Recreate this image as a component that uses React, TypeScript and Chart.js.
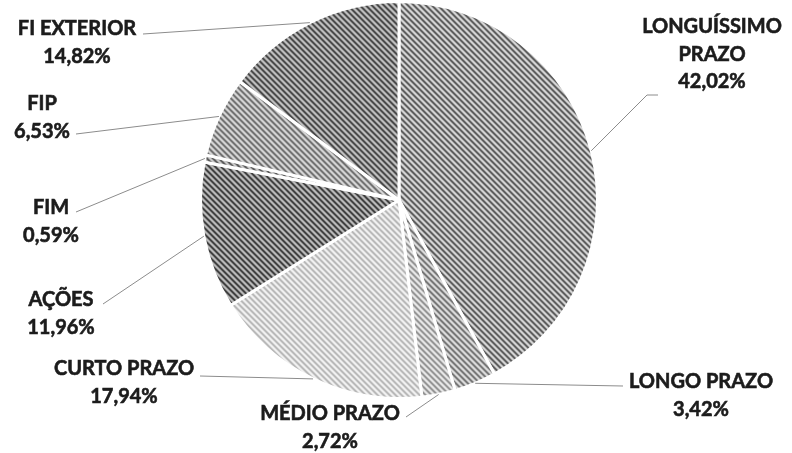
import React, { useEffect, useRef } from "react";
import { Chart, registerables } from "chart.js";
Chart.register(...registerables);

// ---- data ----
const categories = [
  "LONGUÍSSIMO PRAZO",
  "LONGO PRAZO",
  "MÉDIO PRAZO",
  "CURTO PRAZO",
  "AÇÕES",
  "FIM",
  "FIP",
  "FI EXTERIOR",
];
const values = [42.02, 3.42, 2.72, 17.94, 11.96, 0.59, 6.53, 14.82];
const categoryLines = [
  ["LONGUÍSSIMO", "PRAZO"],
  ["LONGO PRAZO"],
  ["MÉDIO PRAZO"],
  ["CURTO PRAZO"],
  ["AÇÕES"],
  ["FIM"],
  ["FIP"],
  ["FI EXTERIOR"],
];

// ---- styles (stripe grey, background grey) ----
const stripeGrey = [95, 120, 150, 185, 65, 95, 115, 75];
const bgGrey = [212, 218, 230, 240, 185, 200, 212, 190];

// ---- label layout: text centre (cx, first-line cy), leader anchor (ax, ay), optional elbow ----
const labelLayout = [
  { cx: 712, cy: 27, ax: 658, ay: 95, ex: 647, ey: 95 },
  { cx: 701, cy: 382, ax: 623, ay: 386 },
  { cx: 330, cy: 414, ax: 406, ay: 417 },
  { cx: 124, cy: 369, ax: 200, ay: 376 },
  { cx: 61, cy: 300, ax: 103, ay: 304 },
  { cx: 51, cy: 208, ax: 76, ay: 212 },
  { cx: 42, cy: 104, ax: 76, ay: 134 },
  { cx: 77, cy: 29, ax: 143, ay: 34 },
];

function fmt(v: number) {
  return v.toFixed(2).replace(".", ",") + "%";
}

function makePattern(ctx: CanvasRenderingContext2D, stripe: number, bg: number) {
  const s = 6;
  const c = document.createElement("canvas");
  c.width = s;
  c.height = s;
  const cctx = c.getContext("2d")!;
  const img = cctx.createImageData(s, s);
  for (let y = 0; y < s; y++) {
    for (let x = 0; x < s; x++) {
      const d = (((x - y) % s) + s) % s;
      const w = d === 0 || d === 1 ? 1 : d === 2 || d === 5 ? 0.45 : 0;
      const v = Math.round(bg * (1 - w) + stripe * w);
      const k = (y * s + x) * 4;
      img.data[k] = v;
      img.data[k + 1] = v;
      img.data[k + 2] = v;
      img.data[k + 3] = 255;
    }
  }
  cctx.putImageData(img, 0, 0);
  return ctx.createPattern(c, "repeat")!;
}

const labelPlugin = {
  id: "outerLabels",
  afterDraw(chart: any) {
    const ctx: CanvasRenderingContext2D = chart.ctx;
    const meta = chart.getDatasetMeta(0);
    ctx.save();
    meta.data.forEach((arc: any, i: number) => {
      const p = arc.getProps(["x", "y", "startAngle", "endAngle", "outerRadius"], true);
      const mid = (p.startAngle + p.endAngle) / 2;
      const px = p.x + Math.cos(mid) * p.outerRadius;
      const py = p.y + Math.sin(mid) * p.outerRadius;
      const L: any = labelLayout[i];
      ctx.strokeStyle = "#8c8c8c";
      ctx.lineWidth = 1;
      ctx.beginPath();
      ctx.moveTo(L.ax, L.ay);
      if (L.ex !== undefined) ctx.lineTo(L.ex, L.ey);
      ctx.lineTo(px, py);
      ctx.stroke();

      const lines = [...categoryLines[i], fmt(values[i])];
      ctx.fillStyle = "#1c1c1c";
      ctx.strokeStyle = "#1c1c1c";
      ctx.lineWidth = 0.6;
      ctx.font = "bold 20px Lato";
      ctx.textAlign = "center";
      ctx.textBaseline = "middle";
      lines.forEach((t, j) => {
        ctx.fillText(t, L.cx, L.cy + j * 27.5);
        ctx.strokeText(t, L.cx, L.cy + j * 27.5);
      });
    });
    ctx.restore();
  },
};

export default function App() {
  const ref = useRef<HTMLCanvasElement>(null);
  useEffect(() => {
    const canvas = ref.current!;
    const ctx = canvas.getContext("2d")!;
    const patterns = values.map((_, i) => makePattern(ctx, stripeGrey[i], bgGrey[i]));
    const chart = new Chart(canvas, {
      type: "pie",
      data: {
        labels: categories,
        datasets: [
          {
            data: values,
            backgroundColor: patterns as any,
            borderColor: "#ffffff",
            borderWidth: 3,
          },
        ],
      },
      options: {
        responsive: false,
        animation: false,
        layout: { padding: { left: 199, right: 193, top: 0, bottom: 53 } },
        plugins: { legend: { display: false }, tooltip: { enabled: false } },
      },
      plugins: [labelPlugin],
    });
    return () => chart.destroy();
  }, []);
  return (
    <div style={{ position: "absolute", left: 0, top: 0, width: 792, height: 453, background: "#fff" }}>
      <canvas ref={ref} width={792} height={453} />
    </div>
  );
}
